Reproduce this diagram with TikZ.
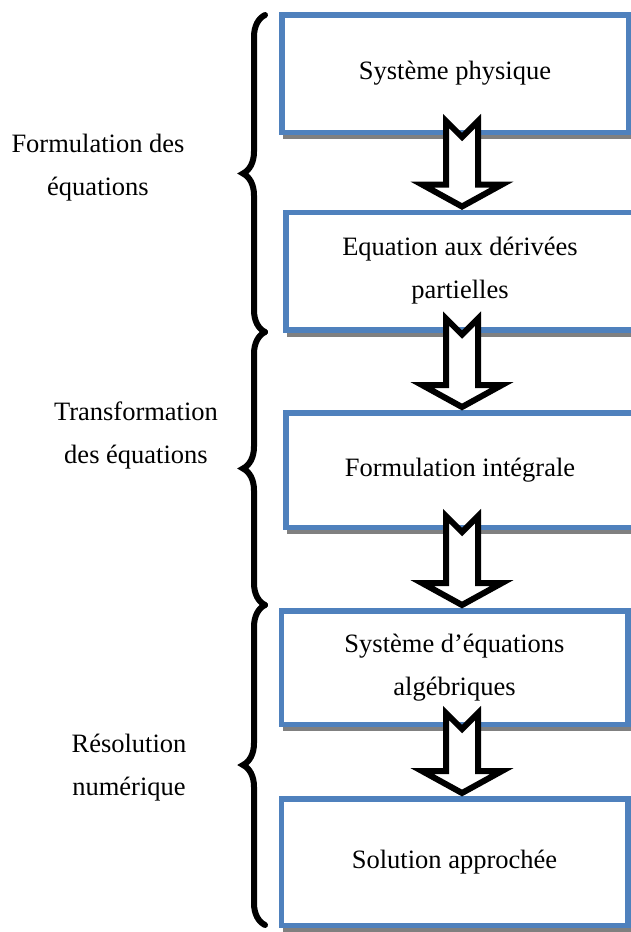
\documentclass[tikz,border=0pt]{standalone}
\usepackage{fontspec}
\setmainfont{Liberation Serif}
\usepackage{tikz}
\usetikzlibrary{calc,decorations.pathreplacing,shadows}
\definecolor{boxblue}{RGB}{79,129,189}
\definecolor{shadowgray}{RGB}{128,128,128}

% hollow block arrow with notched tail, from the bottom of #1 to the top of #2
\newcommand{\bigarrow}[2]{%
  \draw[blockarrow] let \p1=($(axis |- #1.south)+(0,14)$), \p2=(axis |- #2.north) in
    (\x1-16pt,\y1) -- (\x1,\y1-16pt) -- (\x1+16pt,\y1) -- (\x1+16pt,\y2+25pt)
    -- (\x1+40pt,\y2+25pt) -- (\x1,\y2+3pt) -- (\x1-40pt,\y2+25pt)
    -- (\x1-16pt,\y2+25pt) -- cycle;}

\begin{document}
\begin{tikzpicture}[x=1pt, y=1pt, font=\fontsize{26.5}{43}\selectfont,
  box/.style={draw=boxblue, line width=5.5pt, fill=white, align=center, inner sep=0pt,
              minimum width=346.5pt, minimum height=117.5pt,
              drop shadow={shadow xshift=4pt, shadow yshift=-4pt, fill=shadowgray,
                           draw=shadowgray, opacity=1}},
  blockarrow/.style={draw=black, fill=white, line width=6pt},
  curly/.style={decorate, decoration={brace, amplitude=22pt}, line width=6pt, line cap=round}]
  \useasboundingbox (0,0) rectangle (630,-932);
  \coordinate (axis) at (462,0);

  % steps
  \node[box] (b1) at (455,-73.5) {Système physique};
  \node[box, minimum width=348pt] (b2) at (460,-271) {Equation aux dérivées\\ partielles};
  \node[box, minimum width=348pt, minimum height=114.5pt] (b3) at (460,-470) {Formulation intégrale};
  \node[box, minimum height=113.5pt] (b4) at (454.5,-667.5) {Système d’équations\\ algébriques};
  \node[box, minimum height=126.5pt] (b5) at (454.5,-862) {Solution approchée};

  \bigarrow{b1}{b2}
  \bigarrow{b2}{b3}
  \bigarrow{b3}{b4}
  \bigarrow{b4}{b5}

  % groups
  \draw[curly] (265,-332) -- (265,-15);
  \draw[curly] (265,-605) -- (265,-332);
  \draw[curly] (265,-925) -- (265,-605);
  \node[align=center] (l1) at (98,-168) {Formulation des\\ équations};
  \node[align=center] (l2) at (136,-435) {Transformation\\ des équations};
  \node[align=center] (l3) at (129,-768) {Résolution\\ numérique};
\end{tikzpicture}
\end{document}
